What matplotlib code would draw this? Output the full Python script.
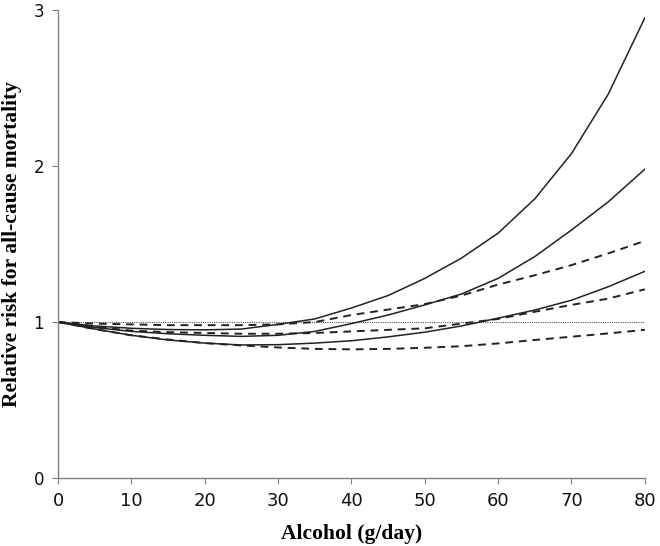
import matplotlib

matplotlib.use("Agg")

import matplotlib.pyplot as plt

# Alcohol intake (g/day)
alcohol = [0, 5, 10, 15, 20, 25, 30, 35, 40, 45, 50, 55, 60, 65, 70, 75, 80]

# Relative risk curves
solid_high = [1.00, 0.975, 0.96, 0.952, 0.95, 0.955, 0.985, 1.02, 1.09, 1.17,
              1.28, 1.41, 1.57, 1.79, 2.08, 2.46, 2.95]
solid_mid = [1.00, 0.965, 0.94, 0.925, 0.915, 0.908, 0.915, 0.94, 0.99, 1.045,
             1.11, 1.18, 1.28, 1.42, 1.59, 1.77, 1.98]
solid_low = [1.00, 0.955, 0.915, 0.885, 0.865, 0.853, 0.855, 0.865, 0.88, 0.905,
             0.935, 0.975, 1.025, 1.077, 1.14, 1.226, 1.325]
dashed_high = [1.00, 0.99, 0.985, 0.98, 0.98, 0.98, 0.985, 1.00, 1.045, 1.08,
               1.115, 1.17, 1.24, 1.30, 1.365, 1.44, 1.52]
dashed_mid = [1.00, 0.97, 0.945, 0.935, 0.93, 0.925, 0.925, 0.93, 0.94, 0.95,
              0.96, 0.99, 1.02, 1.066, 1.11, 1.15, 1.21]
dashed_low = [1.00, 0.955, 0.915, 0.888, 0.865, 0.85, 0.837, 0.828, 0.825, 0.828,
              0.835, 0.845, 0.863, 0.885, 0.906, 0.927, 0.95]

reference = 1.0

x_ticks = [0, 10, 20, 30, 40, 50, 60, 70, 80]
y_ticks = [0, 1, 2, 3]

fig = plt.figure(figsize=(6.6, 5.46), dpi=100)
ax = fig.add_axes([0.088, 0.1245, 0.889, 0.857])

ax.plot(alcohol, [reference] * len(alcohol), color="#555555",
        linestyle=(0, (1, 1)), linewidth=0.8)

for series in (solid_high, solid_mid, solid_low):
    ax.plot(alcohol, series, color="#222222", linewidth=1.1)

for series in (dashed_high, dashed_mid, dashed_low):
    ax.plot(alcohol, series, color="#222222", linewidth=1.4,
            linestyle=(0, (4, 3)))

ax.set_xlim(0, 80)
ax.set_ylim(0, 3)
ax.set_xticks(x_ticks)
ax.set_yticks(y_ticks)

for side in ("top", "right"):
    ax.spines[side].set_visible(False)

for side in ("left", "bottom"):
    ax.spines[side].set_color("#808080")
    ax.spines[side].set_linewidth(1.0)

ax.tick_params(axis="both", direction="out", length=4, width=0.8,
               color="#808080", labelcolor="#111111")
ax.tick_params(axis="y", pad=6, labelsize=12)
ax.tick_params(axis="x", pad=6, labelsize=13)

ax.set_xlabel("Alcohol (g/day)", family="Liberation Serif",
              fontweight="bold", fontsize=15.5, labelpad=10)
ax.set_ylabel("Relative risk for all-cause mortality", family="Liberation Serif",
              fontweight="bold", fontsize=15.5, labelpad=8)

fig.savefig("out.png", dpi=100)
